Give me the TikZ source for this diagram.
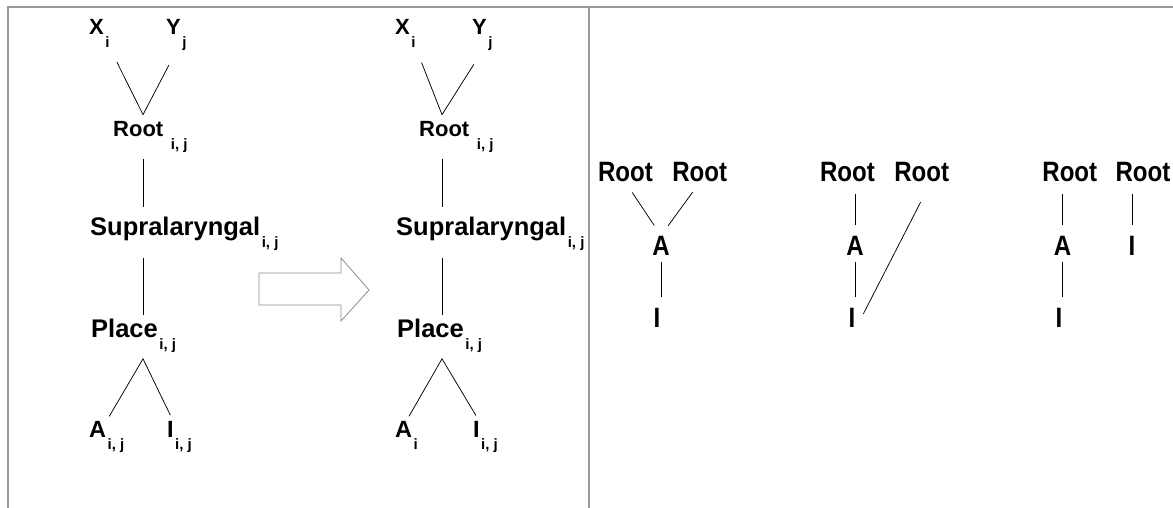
\documentclass[tikz,border=0pt]{standalone}
\usepackage{fontspec}
\setmainfont{Liberation Sans}
\newfontfamily\narrowfont{Liberation Sans}[FakeStretch=0.86]
\usetikzlibrary{calc}

% lowered index after a feature label
\newcommand{\lsub}[1]{\kern1.5pt\raisebox{-12.5pt}{\fontsize{15pt}{15pt}\selectfont #1}}

\begin{document}
\begin{tikzpicture}[x=1pt,y=-1pt,
  lab/.style={inner sep=0pt,anchor=base west,font=\bfseries\fontsize{22pt}{26pt}\selectfont},
  labA/.style={lab,font=\bfseries\fontsize{23.5pt}{28pt}\selectfont},
  labB/.style={lab,font=\bfseries\fontsize{25.5pt}{30pt}\selectfont},
  feat/.style={inner sep=0pt,anchor=base,font=\narrowfont\bfseries\fontsize{28pt}{32pt}\selectfont},
  frame/.style={draw=black!40,line width=1.2pt},
  tie/.style={line width=0.75pt},
  fat/.style={draw=black!45,line width=0.8pt}]
\useasboundingbox (0,0) rectangle (1173,508);
\draw[frame] (8,508) -- (8,7) -- (1173,7);
\draw[frame] (589,7) -- (589,508);

% tree before the merger
\node[lab] (Xl) at (89,35) {X\lsub{i}};
\node[lab] (Yl) at (166,35) {Y\lsub{j}};
\node[lab] (Rl) at (113,137) {Root \lsub{i, j}};
\node[labB] (Sl) at (90,235) {Supralaryngal\lsub{i, j}};
\node[labB] (Pl) at (91,337) {Place\lsub{i, j}};
\node[labA] (Al) at (89,437) {A\lsub{i, j}};
\node[labA] (Il) at (167,437) {I\lsub{i, j}};
\coordinate (axL) at (143,0);
\draw[tie,shorten <=16pt,shorten >=16pt] (Xl.south east) -- ($(Rl.north -| axL)+(0,-7)$) -- (Yl.south);
\draw[tie,shorten <=6pt,shorten >=9pt] (Rl.south -| axL) -- (Sl.north -| axL);
\draw[tie,shorten <=7pt,shorten >=3pt] (Sl.south -| axL) -- (Pl.north -| axL);
\draw[tie,shorten <=5pt,shorten >=6pt] (Al.north) -- ($(Pl.south -| axL)+(0,6)$) -- ([xshift=6pt]Il.north west);

\draw[fat] (259,273) -- (341,273) -- (341,258) -- (369,290) -- (341,321) -- (341,305) -- (259,305) -- cycle;

% tree after the merger
\node[lab] (Xm) at (395,35) {X\lsub{i}};
\node[lab] (Ym) at (472,35) {Y\lsub{j}};
\node[lab] (Rm) at (419,137) {Root \lsub{i, j}};
\node[labB] (Sm) at (396,235) {Supralaryngal\lsub{i, j}};
\node[labB] (Pm) at (397,337) {Place\lsub{i, j}};
\node[labA] (Am) at (395,437) {A\lsub{i}};
\node[labA] (Im) at (473,437) {I\lsub{i, j}};
\coordinate (axM) at (442,0);
\draw[tie,shorten <=16pt,shorten >=16pt] (Xm.south east) -- ($(Rm.north -| axM)+(0,-7)$) -- (Ym.south);
\draw[tie,shorten <=6pt,shorten >=9pt] (Rm.south -| axM) -- (Sm.north -| axM);
\draw[tie,shorten <=7pt,shorten >=3pt] (Sm.south -| axM) -- (Pm.north -| axM);
\draw[tie,shorten <=5pt,shorten >=6pt] (Am.north) -- ($(Pm.south -| axM)+(0,6)$) -- ([xshift=6pt]Im.north west);

% shared A
\node[feat] (R1a) at (625.5,182) {Root};
\node[feat] (R1b) at (699.7,182) {Root};
\node[feat] (A1) at (661,255) {A};
\node[feat] (I1) at (657,327) {I};
\draw[tie,shorten <=12pt,shorten >=12pt] (R1a.south) -- (A1.north);
\draw[tie,shorten <=12pt,shorten >=12pt] (R1b.south) -- (A1.north);
\draw[tie,shorten <=7pt,shorten >=11pt] (A1.south) -- (A1.south |- I1.north);

% I linked to both
\node[feat] (R2a) at (847.5,182) {Root};
\node[feat] (R2b) at (921.7,182) {Root};
\node[feat] (A2) at (855,255) {A};
\node[feat] (I2) at (852,327) {I};
\draw[tie,shorten <=12pt,shorten >=11pt] (A2.north |- R2a.south) -- (A2.north);
\draw[tie,shorten <=7pt,shorten >=11pt] (A2.south) -- (A2.south |- I2.north);
\draw[tie,shorten <=22pt,shorten >=4pt] ([xshift=9pt]R2b.south) -- ([xshift=6pt]I2.east);

% separate I
\node[feat] (R3a) at (1069.8,182) {Root};
\node[feat] (R3b) at (1143,182) {Root};
\node[feat] (A3) at (1062.5,255) {A};
\node[feat] (I3) at (1059,327) {I};
\node[feat] (J3) at (1132,255) {I};
\draw[tie,shorten <=12pt,shorten >=11pt] (A3.north |- R3a.south) -- (A3.north);
\draw[tie,shorten <=7pt,shorten >=11pt] (A3.south) -- (A3.south |- I3.north);
\draw[tie,shorten <=12pt,shorten >=11pt] (J3.north |- R3b.south) -- (J3.north);
\end{tikzpicture}
\end{document}
